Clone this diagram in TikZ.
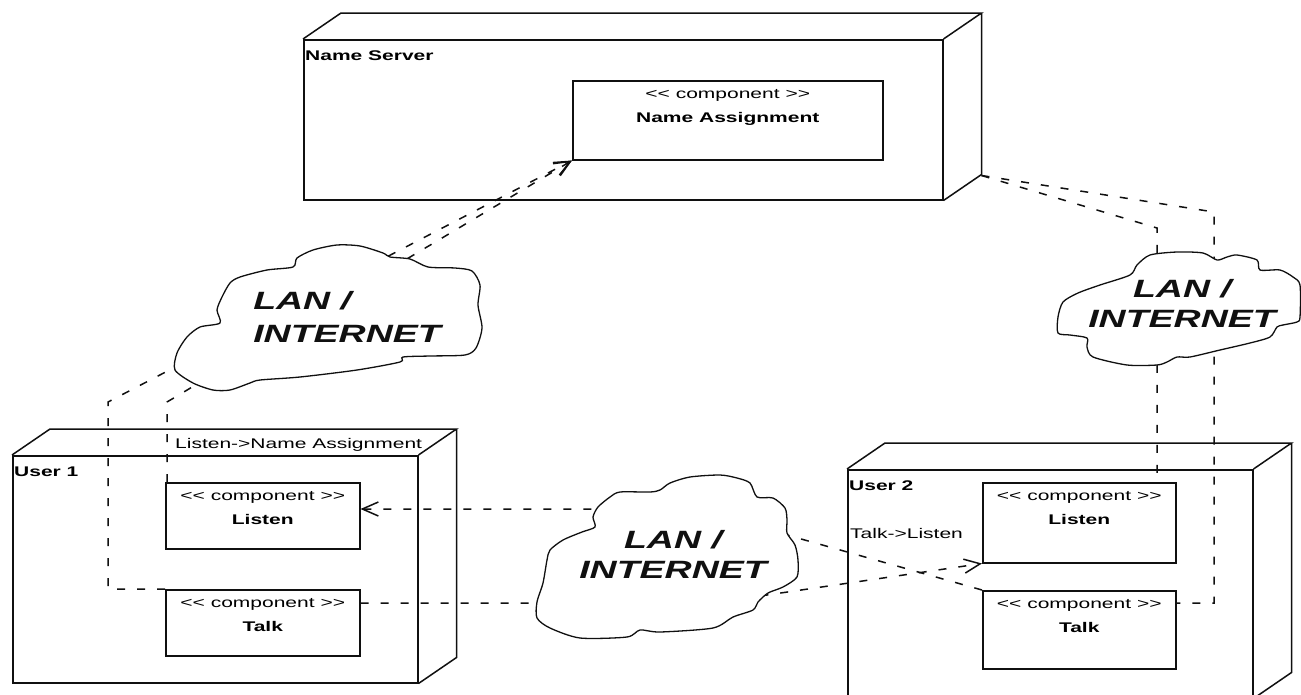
\documentclass[tikz,border=0pt]{standalone}
\usepackage{fontspec}
\setmainfont{Liberation Sans}[FakeStretch=1.5]
\usetikzlibrary{arrows.meta,calc}
\definecolor{ink}{HTML}{101010}
\newcommand\uismall{\fontsize{14pt}{16pt}\selectfont}
\newcommand\lanfont{\fontsize{25pt}{31pt}\selectfont\bfseries\itshape}
% top and side faces of a deployment node
\newcommand\nodedepth[1]{%
  \draw[edge] (#1.north west) -- ++(38,-26) -- ($(#1.north east)+(38,-26)$) -- (#1.north east)
    ($(#1.north east)+(38,-26)$) -- ($(#1.south east)+(38,-26)$) -- (#1.south east);}
\begin{document}
\begin{tikzpicture}[x=1pt,y=-1pt,
  edge/.style={draw=ink, line width=1.5pt},
  face/.style={draw=ink, line width=1.5pt, inner sep=0pt, anchor=north west},
  compbox/.style={draw=ink, line width=1.5pt, inner sep=0pt, anchor=north west},
  nodetitle/.style={inner sep=0pt, font=\uismall\bfseries, anchor=base west},
  caption/.style={inner sep=0pt, font=\uismall, anchor=base west},
  stereo/.style={inner sep=0pt, font=\uismall, anchor=base},
  compname/.style={inner sep=0pt, font=\uismall\bfseries, anchor=base},
  dep/.style={draw=ink, line width=1.5pt, dash pattern=on 8pt off 12pt},
  opentip/.style={-{Straight Barb[length=16pt,width=14pt]}},
  lanshape/.style={draw=ink, line width=1.3pt, fill=white},
  lantext/.style={font=\lanfont, inner sep=0pt, text=ink},
]
\useasboundingbox (0,0) rectangle (1301,694);
\fill[white] (0,0) rectangle (1301,694);

% ---- deployment nodes ----
\node[face, minimum width=639pt, minimum height=160pt] (ns) at (303,39) {};
\nodedepth{ns}
\node[nodetitle] (nsT) at (305,60) {Name Server};

\node[face, minimum width=405pt, minimum height=227pt] (u1) at (12,455) {};
\nodedepth{u1}
\node[nodetitle] (u1T) at (14,476) {User 1};

\node[face, minimum width=405pt, minimum height=228pt] (u2) at (847,469) {};
\nodedepth{u2}
\node[nodetitle] (u2T) at (849,490) {User 2};

% ---- components ----
\node[compbox, minimum width=310pt, minimum height=79pt] (na) at (572,80) {};
\node[stereo] (naS) at ([yshift=-18pt]na.north) {<\kern0pt< component >\kern0pt>};
\node[compname] (naN) at ([yshift=-42pt]na.north) {Name Assignment};

\node[compbox, minimum width=194pt, minimum height=66pt] (u1l) at (165,482) {};
\node[stereo] (u1lS) at ([yshift=-18pt]u1l.north) {<\kern0pt< component >\kern0pt>};
\node[compname] (u1lN) at ([yshift=-42pt]u1l.north) {Listen};

\node[compbox, minimum width=194pt, minimum height=66pt] (u1t) at (165,589) {};
\node[stereo] (u1tS) at ([yshift=-18pt]u1t.north) {<\kern0pt< component >\kern0pt>};
\node[compname] (u1tN) at ([yshift=-42pt]u1t.north) {Talk};

\node[compbox, minimum width=193pt, minimum height=80pt] (u2l) at (982,482) {};
\node[stereo] (u2lS) at ([yshift=-18pt]u2l.north) {<\kern0pt< component >\kern0pt>};
\node[compname] (u2lN) at ([yshift=-42pt]u2l.north) {Listen};

\node[compbox, minimum width=193pt, minimum height=78pt] (u2t) at (982,590) {};
\node[stereo] (u2tS) at ([yshift=-18pt]u2t.north) {<\kern0pt< component >\kern0pt>};
\node[compname] (u2tN) at ([yshift=-42pt]u2t.north) {Talk};

% ---- connector labels ----
\node[caption] (lblNA) at (175,448) {Listen->Name Assignment};
\node[caption] (lblTL) at (850,538) {Talk->Listen};

% ---- bend points ----
\coordinate (k1) at (108,402);
\coordinate (k2) at (167,402);
\coordinate (nsc) at ($(ns.south east)+(38,-25)$);
\coordinate (k3) at (1214,212);
\coordinate (k4) at (1157,228);
\coordinate (k5) at ([yshift=-13pt]u2t.north east);
\coordinate (m1) at (600,509);
\coordinate (m2) at (787,535);
\coordinate (m3) at (540,603);
\coordinate (m4) at (767,595);

% ---- dependencies ----
\draw[dep, opentip] (u1t.north west) -- (u1t.north west -| k1) -- (k1) -- (na.south west);
\draw[dep, opentip] (u1l.north west -| k2) -- (k2) -- (na.south west);
\draw[dep] (nsc) -- (k3) -- (k3 |- k5) -- (k5);
\draw[dep] (nsc) -- (k4) -- (k4 |- u2l.north);
\draw[dep, opentip] (u2t.north west) -- (m2) -- (m1) -- (m1 -| u1l.east);
\draw[dep, opentip] (u1t.east |- m3) -- (m3) -- (m4) -- (u2l.south west);

% ---- network clouds ----
\draw[lanshape] plot[smooth cycle, tension=0.45] coordinates {
  (177,353) (187,337) (200,327) (220,323) (217,310) (222,297) (230,283) (240,277)
  (267,270) (293,267) (297,258) (313,250) (337,245) (360,246) (383,253) (390,257)
  (410,259) (428,267) (455,268) (472,271) (480,285) (478,305) (482,328) (476,348)
  (465,355) (430,356) (403,357) (400,362) (357,370) (300,377) (260,380) (250,383)
  (230,390) (213,390) (193,383) (175,370)};
\node[lantext, align=left] (lanL) at (347,317) {LAN /\\[2pt]INTERNET};

\draw[lanshape] plot[smooth cycle, tension=0.45] coordinates {
  (537,602) (543,583) (547,560) (550,550) (563,540) (582,532) (595,527) (593,517)
  (598,507) (610,497) (620,492) (650,492) (660,490) (670,483) (690,477) (720,475)
  (737,478) (750,483) (757,497) (773,498) (785,508) (787,520) (787,533) (795,545)
  (798,560) (797,577) (783,587) (768,593) (758,602) (753,610) (733,617) (713,628)
  (660,632) (640,630) (627,637) (580,638) (550,628) (537,618)};
\node[lantext, align=center] (lanM) at (673,554) {LAN /\\[-1pt]INTERNET};

\draw[lanshape] plot[smooth cycle, tension=0.45] coordinates {
  (1058,333) (1058,317) (1063,302) (1078,293) (1100,285) (1130,275) (1137,265)
  (1150,255) (1177,252) (1203,253) (1217,260) (1227,257) (1237,255) (1257,260)
  (1260,270) (1280,270) (1293,277) (1300,285) (1300,317) (1297,322) (1283,325)
  (1277,327) (1270,337) (1250,343) (1220,350) (1190,357) (1177,357) (1167,362)
  (1157,365) (1127,365) (1093,357) (1087,347) (1087,338) (1070,335)};
\node[lantext, align=center] (lanR) at (1182,303) {LAN /\\[-1pt]INTERNET};
\end{tikzpicture}
\end{document}
